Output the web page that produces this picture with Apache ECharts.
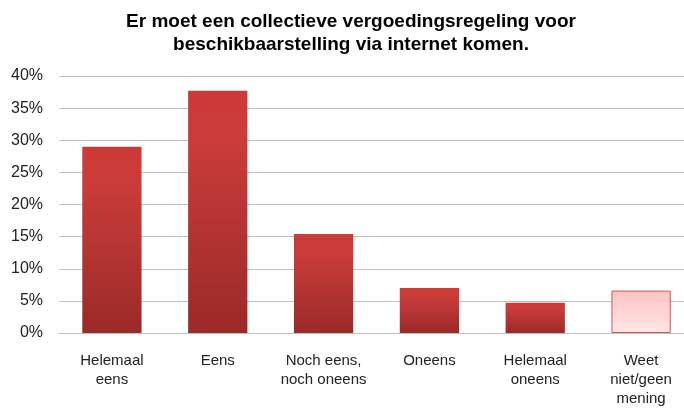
<!DOCTYPE html>
<html>
<head>
<meta charset="utf-8">
<script src="https://cdn.jsdelivr.net/npm/echarts@6/dist/echarts.min.js"></script>
<style>html,body{margin:0;padding:0;background:#fff}#c{width:684px;height:408px}</style>
</head>
<body>
<div id="c"></div>
<script>
var titleText = 'Er moet een collectieve vergoedingsregeling voor\nbeschikbaarstelling via internet komen.';
var categories = ['Helemaal\neens', 'Eens', 'Noch eens,\nnoch oneens', 'Oneens', 'Helemaal\noneens', 'Weet\nniet/geen\nmening'];
var values = [29, 37.7, 15.4, 7.0, 4.7, 6.6];
var yTicks = [0, 5, 10, 15, 20, 25, 30, 35, 40];

var redFill = new echarts.graphic.LinearGradient(0, 0, 0, 1, [
  {offset: 0, color: '#CD3A36'},
  {offset: 0.2, color: '#CA3C3A'},
  {offset: 1, color: '#9A2A28'}
]);
var pinkFill = new echarts.graphic.LinearGradient(0, 0, 0, 1, [
  {offset: 0, color: '#FDC2C2'},
  {offset: 1, color: '#FFE6E6'}
]);
var seriesData = values.map(function (v, i) {
  if (i === values.length - 1) {
    return {value: v, itemStyle: {color: pinkFill, borderColor: '#D55450', borderWidth: 1}};
  }
  return {value: v, itemStyle: {color: redFill}};
});

var chart = echarts.init(document.getElementById('c'), null, {renderer: 'canvas'});
chart.setOption({
  animation: false,
  title: {
    text: titleText,
    left: 346,
    top: 5,
    textAlign: 'center',
    textStyle: {fontFamily: 'Liberation Sans, Arial', fontSize: 19, fontWeight: 'bold', color: '#000', lineHeight: 23}
  },
  grid: {left: 59, top: 76, bottom: 75, width: 635, containLabel: false, outerBoundsMode: 'none'},
  xAxis: {
    type: 'category',
    data: categories,
    axisLine: {show: true, lineStyle: {color: '#BFBFBF', width: 1}},
    axisTick: {show: false},
    axisLabel: {
      interval: 0, margin: 18, color: '#222', fontFamily: 'Liberation Sans, Arial', fontSize: 15, lineHeight: 19
    }
  },
  yAxis: {
    type: 'value',
    min: yTicks[0],
    max: yTicks[yTicks.length - 1],
    interval: 5,
    axisLine: {show: false},
    axisTick: {show: false},
    axisLabel: {
      formatter: '{value}%', margin: 16, color: '#222', fontFamily: 'Liberation Sans, Arial', fontSize: 16
    },
    splitLine: {lineStyle: {color: '#C0C0C0', width: 1}}
  },
  series: [{
    type: 'bar',
    data: seriesData,
    barWidth: '56%'
  }]
});
</script>
</body>
</html>
